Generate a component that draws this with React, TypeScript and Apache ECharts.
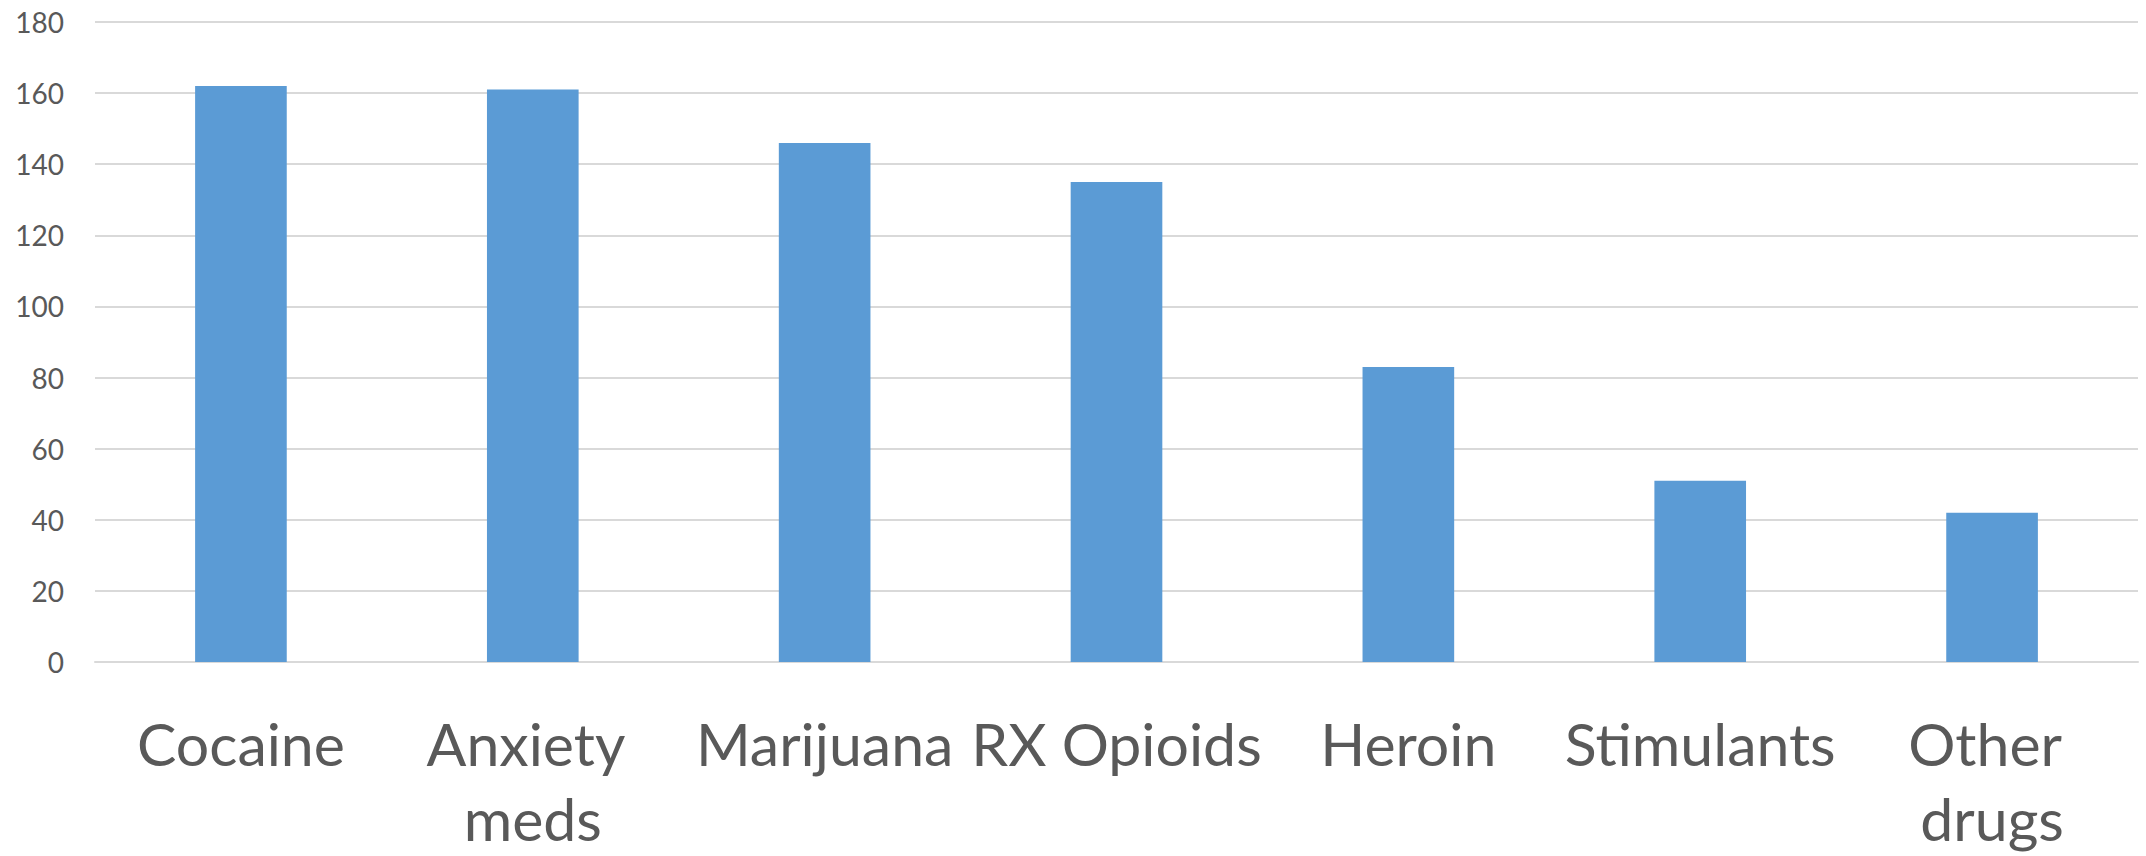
import React, { useEffect, useRef } from "react";
import * as echarts from "echarts";

const categories = [
  "Cocaine",
  "Anxiety meds",
  "Marijuana",
  "RX Opioids",
  "Heroin",
  "Stimulants",
  "Other drugs",
];
const counts = [162, 161, 146, 135, 83, 51, 42];
const yTicks = { min: 0, max: 180, interval: 20 };

const WIDTH = 2146;
const HEIGHT = 856;
const TEXT = "#595959";
const FONT = "Lato, 'Noto Sans', sans-serif";

export default function App() {
  const ref = useRef<HTMLDivElement>(null);

  useEffect(() => {
    document.body.style.margin = "0";
    document.documentElement.style.overflow = "hidden";
    document.body.style.overflow = "hidden";
    if (!ref.current) return;
    const chart = echarts.init(ref.current, undefined, {
      renderer: "svg",
      width: WIDTH,
      height: HEIGHT,
    });
    const left = 95;
    const categoryWidth = (WIDTH - left) / categories.length;
    chart.setOption({
      animation: false,
      backgroundColor: "#ffffff",
      grid: { left, right: 0, top: 22, bottom: 191, containLabel: false },
      xAxis: {
        type: "category",
        data: categories,
        axisLine: { show: true, lineStyle: { color: "#d9d9d9", width: 2 } },
        axisTick: { show: false },
        axisLabel: {
          interval: 0,
          color: TEXT,
          fontFamily: FONT,
          fontSize: 59,
          lineHeight: 75,
          margin: 44,
          width: categoryWidth + 10,
          overflow: "break",
        },
      },
      yAxis: {
        type: "value",
        min: yTicks.min,
        max: yTicks.max,
        interval: yTicks.interval,
        axisLine: { show: false },
        axisTick: { show: false },
        axisLabel: {
          color: TEXT,
          fontFamily: FONT,
          fontSize: 28,
          margin: 31,
        },
        splitLine: { lineStyle: { color: "#d9d9d9", width: 2 } },
      },
      series: [
        {
          type: "bar",
          data: counts,
          barWidth: "31.4%",
          itemStyle: { color: "#5b9bd5" },
        },
      ],
    });
    return () => chart.dispose();
  }, []);

  return (
    <div
      ref={ref}
      style={{
        position: "absolute",
        left: 0,
        top: 0,
        width: WIDTH,
        height: HEIGHT,
        overflow: "hidden",
      }}
    />
  );
}
